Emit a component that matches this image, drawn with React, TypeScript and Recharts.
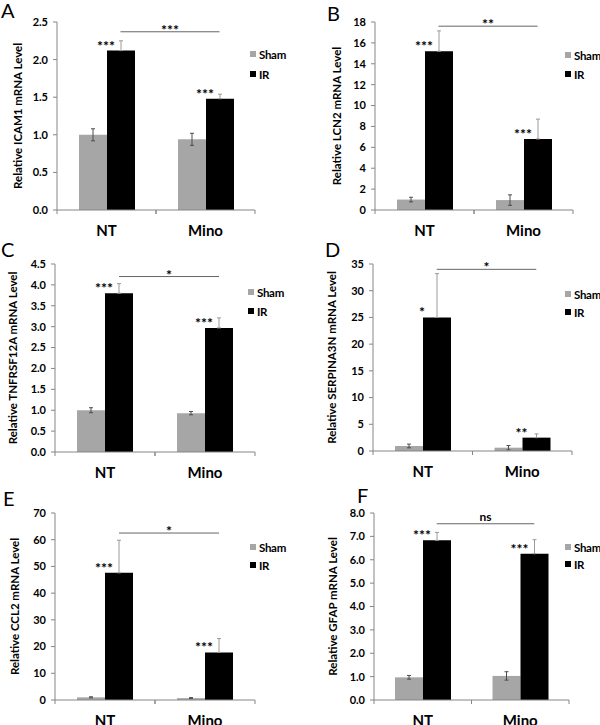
import React from 'react'
import { BarChart, Bar, XAxis, YAxis, ErrorBar, LabelList, ReferenceLine, Label } from 'recharts'

const categories = ['NT', 'Mino']
const seriesNames = ['Sham', 'IR']

// A - ICAM1
const icam1Sham = [1.0, 0.94]
const icam1ShamErr = [0.08, 0.08]
const icam1Ir = [2.12, 1.48]
const icam1IrErr = [0.13, 0.06]
const icam1Stars = ['***', '***']
const icam1Ticks = [0, 0.5, 1.0, 1.5, 2.0, 2.5]

// B - LCN2
const lcn2Sham = [1.0, 0.95]
const lcn2ShamErr = [0.22, 0.5]
const lcn2Ir = [15.2, 6.8]
const lcn2IrErr = [1.95, 1.9]
const lcn2Stars = ['***', '***']
const lcn2Ticks = [0, 2, 4, 6, 8, 10, 12, 14, 16, 18]

// C - TNFRSF12A
const tnfSham = [1.0, 0.93]
const tnfShamErr = [0.06, 0.04]
const tnfIr = [3.8, 2.97]
const tnfIrErr = [0.23, 0.24]
const tnfStars = ['***', '***']
const tnfTicks = [0, 0.5, 1.0, 1.5, 2.0, 2.5, 3.0, 3.5, 4.0, 4.5]

// D - SERPINA3N
const serpSham = [0.94, 0.62]
const serpShamErr = [0.35, 0.4]
const serpIr = [25.0, 2.5]
const serpIrErr = [8.2, 0.7]
const serpStars = ['*', '**']
const serpTicks = [0, 5, 10, 15, 20, 25, 30, 35]

// E - CCL2
const ccl2Sham = [1.0, 0.7]
const ccl2ShamErr = [0.2, 0.2]
const ccl2Ir = [47.6, 17.8]
const ccl2IrErr = [12.2, 5.2]
const ccl2Stars = ['***', '***']
const ccl2Ticks = [0, 10, 20, 30, 40, 50, 60, 70]

// F - GFAP
const gfapSham = [0.97, 1.03]
const gfapShamErr = [0.08, 0.18]
const gfapIr = [6.83, 6.26]
const gfapIrErr = [0.34, 0.6]
const gfapStars = ['***', '***']
const gfapTicks = [0, 1, 2, 3, 4, 5, 6, 7, 8]

const panels = [
  { letter: 'A', gene: 'ICAM1', sham: icam1Sham, shamErr: icam1ShamErr, ir: icam1Ir, irErr: icam1IrErr, stars: icam1Stars, ticks: icam1Ticks, decimals: 1, sig: '***', sigY: 2.37 },
  { letter: 'B', gene: 'LCN2', sham: lcn2Sham, shamErr: lcn2ShamErr, ir: lcn2Ir, irErr: lcn2IrErr, stars: lcn2Stars, ticks: lcn2Ticks, decimals: 0, sig: '**', sigY: 17.6 },
  { letter: 'C', gene: 'TNFRSF12A', sham: tnfSham, shamErr: tnfShamErr, ir: tnfIr, irErr: tnfIrErr, stars: tnfStars, ticks: tnfTicks, decimals: 1, sig: '*', sigY: 4.2 },
  { letter: 'D', gene: 'SERPINA3N', sham: serpSham, shamErr: serpShamErr, ir: serpIr, irErr: serpIrErr, stars: serpStars, ticks: serpTicks, decimals: 0, sig: '*', sigY: 34.0 },
  { letter: 'E', gene: 'CCL2', sham: ccl2Sham, shamErr: ccl2ShamErr, ir: ccl2Ir, irErr: ccl2IrErr, stars: ccl2Stars, ticks: ccl2Ticks, decimals: 0, sig: '*', sigY: 62.5 },
  { letter: 'F', gene: 'GFAP', sham: gfapSham, shamErr: gfapShamErr, ir: gfapIr, irErr: gfapIrErr, stars: gfapStars, ticks: gfapTicks, decimals: 1, sig: 'ns', sigY: 7.54 },
]

// panel placement (local px inside each 300-wide cell)
const layouts = [
  { left: 0, top: 0, h: 240, axisX: 57, right: 255, plotTop: 22, zero: 210, yLabelX: 17, letterX: 1, letterY: 0, legX: 250, legY: 54, legGap: 20 },
  { left: 300, top: 0, h: 240, axisX: 75, right: 273, plotTop: 22, zero: 210, yLabelX: 36, letterX: 27, letterY: 3, legX: 265, legY: 55, legGap: 19 },
  { left: 0, top: 240, h: 240, axisX: 55, right: 255, plotTop: 24, zero: 212, yLabelX: 12.5, letterX: 1, letterY: -1, legX: 248, legY: 52, legGap: 19 },
  { left: 300, top: 240, h: 240, axisX: 73, right: 272, plotTop: 24, zero: 211, yLabelX: 31, letterX: 25, letterY: -1, legX: 265, legY: 54, legGap: 18 },
  { left: 0, top: 480, h: 245, axisX: 55, right: 255, plotTop: 33, zero: 220, yLabelX: 14, letterX: 3, letterY: 8, legX: 250, legY: 67, legGap: 18 },
  { left: 300, top: 480, h: 245, axisX: 74, right: 269, plotTop: 33, zero: 220, yLabelX: 32, letterX: 57, letterY: 5, legX: 265, legY: 67, legGap: 17 },
]

const FONT = "Lato, 'Open Sans', sans-serif"
const SHAM = '#a6a6a6'
const IR = '#000000'
const AXIS = '#868686'
const BAR_SIZE = 28
const Y_AXIS_W = 40
const X_AXIS_H = 25

const renderXTick = (band: number) => (props: any) => {
  const { x, y, payload } = props
  return (
    <g>
      <line x1={x - band / 2} y1={y} x2={x - band / 2} y2={y + 4} stroke={AXIS} />
      <line x1={x + band / 2} y1={y} x2={x + band / 2} y2={y + 4} stroke={AXIS} />
      <text x={x} y={y + 20} textAnchor="middle" dominantBaseline="central" fontSize={15} fontWeight={700} fontFamily={FONT} fill="#000">
        {payload.value}
      </text>
    </g>
  )
}

function Panel({ p, lay }: { p: any; lay: any }) {
  const data = categories.map((c, i) => ({
    name: c,
    sham: p.sham[i],
    shamErr: p.shamErr[i],
    ir: p.ir[i],
    irErr: [0, p.irErr[i]],
    star: p.stars[i],
  }))
  const band = (lay.right - lay.axisX) / categories.length
  const yMax = p.ticks[p.ticks.length - 1]
  const starsOnly = /^\*+$/.test(p.sig)

  return (
    <div style={{ position: 'absolute', left: lay.left, top: lay.top, width: 300, height: lay.h }}>
      <div style={{ position: 'absolute', left: lay.letterX, top: lay.letterY, fontSize: 20, lineHeight: 1, fontFamily: FONT, color: '#000' }}>
        {p.letter}
      </div>
      <div style={{ position: 'absolute', left: lay.legX, top: lay.legY - 10, fontFamily: FONT, fontWeight: 700, fontSize: 11.5, letterSpacing: -0.3 }}>
        {seriesNames.map((n, i) => (
          <div key={n} style={{ display: 'flex', alignItems: 'center', height: 20, marginTop: i === 0 ? 0 : lay.legGap - 20, whiteSpace: 'nowrap' }}>
            <span style={{ display: 'inline-block', width: 6, height: 6, background: i === 0 ? SHAM : IR, marginRight: 3 }} />
            <span>{n}</span>
          </div>
        ))}
      </div>
      <BarChart
        width={300}
        height={lay.h}
        data={data}
        barSize={BAR_SIZE}
        barGap={0}
        margin={{ top: lay.plotTop, right: 300 - lay.right, left: lay.axisX - Y_AXIS_W, bottom: lay.h - lay.zero - X_AXIS_H }}
      >
        <XAxis
          dataKey="name"
          height={X_AXIS_H}
          interval={0}
          tickLine={false}
          tickSize={0}
          tickMargin={0}
          axisLine={{ stroke: AXIS }}
          tick={renderXTick(band)}
        />
        <YAxis
          width={Y_AXIS_W}
          domain={[0, yMax]}
          ticks={p.ticks}
          interval={0}
          tickSize={4}
          tickMargin={5}
          tickLine={{ stroke: AXIS }}
          axisLine={{ stroke: AXIS }}
          tickFormatter={(v: number) => v.toFixed(p.decimals)}
          tick={{ fontSize: 11, fontWeight: 700, fill: '#000', fontFamily: FONT }}
        >
          <Label
            content={(props: any) => {
              const vb = props.viewBox
              const cy = vb.y + vb.height / 2
              return (
                <text
                  x={lay.yLabelX}
                  y={cy}
                  transform={`rotate(-90, ${lay.yLabelX}, ${cy})`}
                  textAnchor="middle"
                  dominantBaseline="central"
                  fontSize={11.5}
                  fontWeight={700}
                  fontFamily={FONT}
                  fill="#000"
                >
                  {`Relative ${p.gene} mRNA Level`}
                </text>
              )
            }}
          />
        </YAxis>
        <ReferenceLine
          segment={[{ x: categories[0], y: p.sigY }, { x: categories[1], y: p.sigY }]}
          ifOverflow="visible"
          shape={(props: any) => {
            const { x1, y1, x2 } = props
            const off = BAR_SIZE / 2
            return (
              <g>
                <line x1={x1 + off} y1={y1} x2={x2 + off} y2={y1} stroke="#666" strokeWidth={1} />
                <text
                  x={(x1 + x2) / 2 + off}
                  y={starsOnly ? y1 + 3 : y1 - 3}
                  textAnchor="middle"
                  fontSize={starsOnly ? 14 : 12}
                  fontWeight={700}
                  fontFamily={FONT}
                  fill="#000"
                >
                  {p.sig}
                </text>
              </g>
            )
          }}
        />
        <Bar dataKey="sham" name={seriesNames[0]} fill={SHAM} isAnimationActive={false}>
          <ErrorBar dataKey="shamErr" direction="y" width={2} stroke="#4d4d4d" strokeWidth={1} />
        </Bar>
        <Bar dataKey="ir" name={seriesNames[1]} fill={IR} isAnimationActive={false}>
          <ErrorBar dataKey="irErr" direction="y" width={2} stroke="#9a9a9a" strokeWidth={1} />
          <LabelList
            dataKey="star"
            content={(props: any) => (
              <text x={props.x - 1} y={props.y} textAnchor="middle" fontSize={14} fontWeight={700} fontFamily={FONT} fill="#000">
                {props.value}
              </text>
            )}
          />
        </Bar>
      </BarChart>
    </div>
  )
}

export default function App() {
  return (
    <div style={{ position: 'absolute', left: 0, top: 0, width: 600, height: 725, background: '#fff', overflow: 'hidden' }}>
      {panels.map((p, i) => (
        <Panel key={p.letter} p={p} lay={layouts[i]} />
      ))}
    </div>
  )
}
